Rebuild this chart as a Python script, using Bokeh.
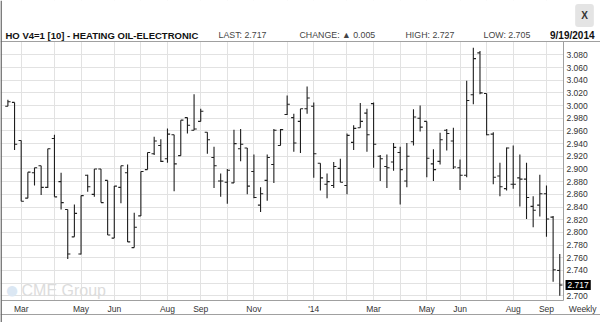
import pandas as pd
from bokeh.plotting import figure
from bokeh.models import (FixedTicker, Label, NumeralTickFormatter, Range1d,
                          ColumnDataSource, Span, BoxAnnotation)
from bokeh.embed import file_html
from bokeh.resources import INLINE

# ---------------- data (weekly bars, HO heating oil) ----------------
FIRST_WEEK = "2013-02-15"
OPEN = [2.999, 3.005, 2.945, 2.854, 2.894, 2.905, 2.871, 2.948, 2.880, 2.836,
        2.793, 2.766, 2.890, 2.860, 2.900, 2.882, 2.791, 2.871, 2.894, 2.776,
        2.826, 2.899, 2.924, 2.937, 2.916, 2.954, 2.921, 2.981, 2.961, 2.975,
        2.958, 2.918, 2.881, 2.879, 2.878, 2.932, 2.933, 2.896, 2.843, 2.882,
        2.907, 2.937, 2.986, 2.981, 2.975, 2.995, 2.999, 2.909, 2.876, 2.874,
        2.901, 2.874, 2.942, 2.965, 2.988, 3.003, 2.920, 2.904, 2.911, 2.926,
        2.881, 2.943, 2.980, 2.975, 2.908, 2.912, 2.961, 2.944, 2.902, 2.890,
        3.017, 3.083, 3.019, 2.955, 2.889, 2.869, 2.876, 2.886, 2.884, 2.841,
        2.843, 2.861, 2.824, 2.740]
HIGH = [3.009, 3.005, 2.945, 2.895, 2.902, 2.905, 2.932, 2.954, 2.894, 2.836,
        2.844, 2.858, 2.891, 2.900, 2.900, 2.882, 2.873, 2.905, 2.907, 2.831,
        2.896, 2.926, 2.951, 2.947, 2.964, 2.954, 2.977, 2.981, 3.018, 2.995,
        2.958, 2.935, 2.893, 2.900, 2.962, 2.963, 2.933, 2.923, 2.871, 2.923,
        2.963, 2.963, 3.016, 2.987, 2.995, 3.030, 3.005, 2.909, 2.893, 2.911,
        2.916, 2.956, 2.969, 3.004, 2.995, 3.005, 2.922, 2.923, 2.941, 2.935,
        2.941, 2.994, 3.000, 2.975, 2.931, 2.957, 2.963, 2.965, 2.915, 3.039,
        3.091, 3.086, 3.019, 2.958, 2.910, 2.934, 2.937, 2.923, 2.910, 2.857,
        2.891, 2.874, 2.826, 2.766]
LOW = [2.999, 2.930, 2.849, 2.854, 2.874, 2.859, 2.870, 2.856, 2.836, 2.758,
       2.793, 2.765, 2.864, 2.856, 2.847, 2.796, 2.791, 2.846, 2.785, 2.776,
       2.826, 2.899, 2.922, 2.911, 2.910, 2.865, 2.921, 2.956, 2.961, 2.975,
       2.924, 2.870, 2.856, 2.845, 2.878, 2.912, 2.860, 2.854, 2.832, 2.850,
       2.878, 2.937, 2.985, 2.927, 2.925, 2.987, 2.886, 2.866, 2.854, 2.870,
       2.879, 2.860, 2.930, 2.965, 2.927, 2.902, 2.881, 2.870, 2.897, 2.844,
       2.871, 2.937, 2.959, 2.887, 2.881, 2.907, 2.929, 2.900, 2.867, 2.887,
       3.002, 3.018, 2.953, 2.876, 2.857, 2.866, 2.869, 2.841, 2.821, 2.808,
       2.825, 2.793, 2.722, 2.700]
CLOSE = [3.006, 2.939, 2.849, 2.895, 2.902, 2.871, 2.932, 2.856, 2.847, 2.766,
         2.830, 2.858, 2.872, 2.900, 2.847, 2.796, 2.873, 2.905, 2.785, 2.808,
         2.896, 2.926, 2.944, 2.912, 2.955, 2.908, 2.977, 2.969, 2.963, 2.991,
         2.946, 2.905, 2.881, 2.898, 2.940, 2.939, 2.873, 2.855, 2.861, 2.918,
         2.961, 2.962, 3.002, 2.941, 2.995, 3.012, 2.924, 2.886, 2.880, 2.904,
         2.879, 2.953, 2.964, 2.975, 2.954, 2.939, 2.916, 2.902, 2.934, 2.899,
         2.920, 2.982, 2.966, 2.917, 2.899, 2.946, 2.956, 2.903, 2.890, 3.008,
         3.074, 3.020, 2.954, 2.887, 2.872, 2.933, 2.876, 2.884, 2.855, 2.835,
         2.861, 2.821, 2.741, 2.717]
MONTH_LABELS = ["Mar", "", "May", "Jun", "", "Aug", "Sep", "", "Nov", "",
                "'14", "", "Mar", "", "May", "Jun", "", "Aug", "Sep"]
PRICE_TICKS = [2.70, 2.72, 2.74, 2.76, 2.78, 2.80, 2.82, 2.84, 2.86, 2.88, 2.90,
               2.92, 2.94, 2.96, 2.98, 3.00, 3.02, 3.04, 3.06, 3.08]
PRICE_TOP, PRICE_BOTTOM = 3.101, 2.6926
TITLE = "HO V4=1 [10] - HEATING OIL-ELECTRONIC"
LAST, CHANGE, DAY_HIGH, DAY_LOW, DATE = "2.717", "0.005", "2.727", "2.705", "9/19/2014"
PERIOD = "Weekly"

# ---------------- derived ----------------
n = len(CLOSE)
dates = pd.date_range(FIRST_WEEK, periods=n, freq="W-FRI")
idx = list(range(n))
month_ticks = [i for i in idx if i > 0 and dates[i].month != dates[i - 1].month]
TICK = 0.4
src = ColumnDataSource(dict(
    x=idx, xl=[i - TICK for i in idx], xr=[i + TICK for i in idx],
    o=OPEN, h=HIGH, l=LOW, c=CLOSE))

# ---------------- pixel layout (whole canvas is the frame) ----------------
W, H = 600, 322
BAR0_PX, BAR_STEP_PX = 7.4, 6.649       # canvas x of first bar, px per week
TOP_PX, BOTTOM_PX, AXIS_X_PX = 41, 300, 563
PPU = (BOTTOM_PX - TOP_PX) / (PRICE_TOP - PRICE_BOTTOM)   # px per price unit

def px2x(cx):
    return (cx - BAR0_PX) / BAR_STEP_PX

def px2y(cy):
    return PRICE_TOP - (cy - TOP_PX) / PPU

FONT = "Liberation Sans"
BAR = "#1e1e1e"
GRID = "#e2e2e2"
LINE = "#a0a0a0"

p = figure(width=W, height=H, output_backend="svg", toolbar_location=None,
           x_range=Range1d(px2x(0), px2x(W)), y_range=Range1d(px2y(H), px2y(0)),
           x_axis_location="below", y_axis_location="right",
           min_border_left=0, min_border_right=0, min_border_top=0, min_border_bottom=0)
p.outline_line_color = None
p.background_fill_color = "white"
p.border_fill_color = "white"

xax, yax = p.xaxis[0], p.yaxis[0]
xax.ticker = FixedTicker(ticks=month_ticks)
yax.ticker = FixedTicker(ticks=PRICE_TICKS)
xax.fixed_location = PRICE_BOTTOM
yax.fixed_location = px2x(AXIS_X_PX)
xax.bounds = (px2x(1), px2x(AXIS_X_PX))
yax.bounds = (PRICE_BOTTOM, PRICE_TOP)
p.xgrid.grid_line_color = GRID
p.ygrid.grid_line_color = GRID

for ax in (xax, yax):
    ax.major_tick_line_color = None
    ax.minor_tick_line_color = None
    ax.axis_line_color = LINE
    ax.major_label_text_font = FONT
    ax.major_label_text_font_size = "8.5px"
    ax.major_label_text_color = "#333333"
    ax.major_label_standoff = 3
    ax.major_tick_out = 0
    ax.major_tick_in = 0
xax.major_label_overrides = {t: lab for t, lab in zip(month_ticks, MONTH_LABELS)}
yax.formatter = NumeralTickFormatter(format="0.000")
yax.major_label_overrides = {2.72: ""}

# white masks so grid lines stay inside the chart box
for kw in (dict(bottom=PRICE_TOP), dict(top=PRICE_BOTTOM),
           dict(left=px2x(AXIS_X_PX))):
    p.add_layout(BoxAnnotation(fill_color="white", fill_alpha=1, line_alpha=0,
                               level="underlay", **kw))

# box lines
p.add_layout(Span(location=PRICE_TOP, dimension="width", line_color=LINE, line_width=1))
p.add_layout(Span(location=px2y(314), dimension="width", line_color=LINE, line_width=1))
p.add_layout(Span(location=px2x(0.6), dimension="height", line_color="#666666", line_width=1.5))

def lab(text, cx, cy, size="9px", bold=False, color="#444444", align="left",
        baseline="middle", **kw):
    p.add_layout(Label(x=px2x(cx), y=px2y(cy), text=text, text_font=FONT,
                       text_font_size=size, text_font_style="bold" if bold else "normal",
                       text_color=color, text_align=align, text_baseline=baseline, **kw))

# watermark
lab("\u25CF", 11.5, 289, size="24px", color="#dbe7f3", align="center")
lab("CME Group", 21, 289.5, size="16px", color="#dcdcdc")

# bars
p.segment(x0="x", y0="l", x1="x", y1="h", source=src, line_color=BAR, line_width=1.1)
p.segment(x0="xl", y0="o", x1="x", y1="o", source=src, line_color=BAR, line_width=1.1)
p.segment(x0="x", y0="c", x1="xr", y1="c", source=src, line_color=BAR, line_width=1.1)

# header
lab(TITLE, 5, 34.5, size="9.5px", bold=True, color="#111111")
lab("LAST: " + LAST, 218, 34.5, size="8.8px")
lab("CHANGE: \u25B2 " + CHANGE, 299, 34.5, size="8.8px")
lab("HIGH: " + DAY_HIGH, 405, 34.5, size="8.8px")
lab("LOW: " + DAY_LOW, 483, 34.5, size="8.8px")
lab(DATE, 594, 34.5, size="10px", bold=True, color="#111111", align="right")
lab("X", 584, 15, size="10px", bold=True, color="#333333", align="center",
    background_fill_color="#e4e4e4", padding=6, border_radius=3)

# last price marker and period label
p.add_layout(Label(x=px2x(565), y=float(CLOSE[-1]), text=LAST, text_font=FONT,
                   text_font_size="8.5px", text_color="white", text_align="left",
                   text_baseline="middle", background_fill_color="black", padding=2))
lab(PERIOD, 596, 308, size="8.5px", color="#333333", align="right")

open("out.html", "w").write(file_html(p, INLINE))
